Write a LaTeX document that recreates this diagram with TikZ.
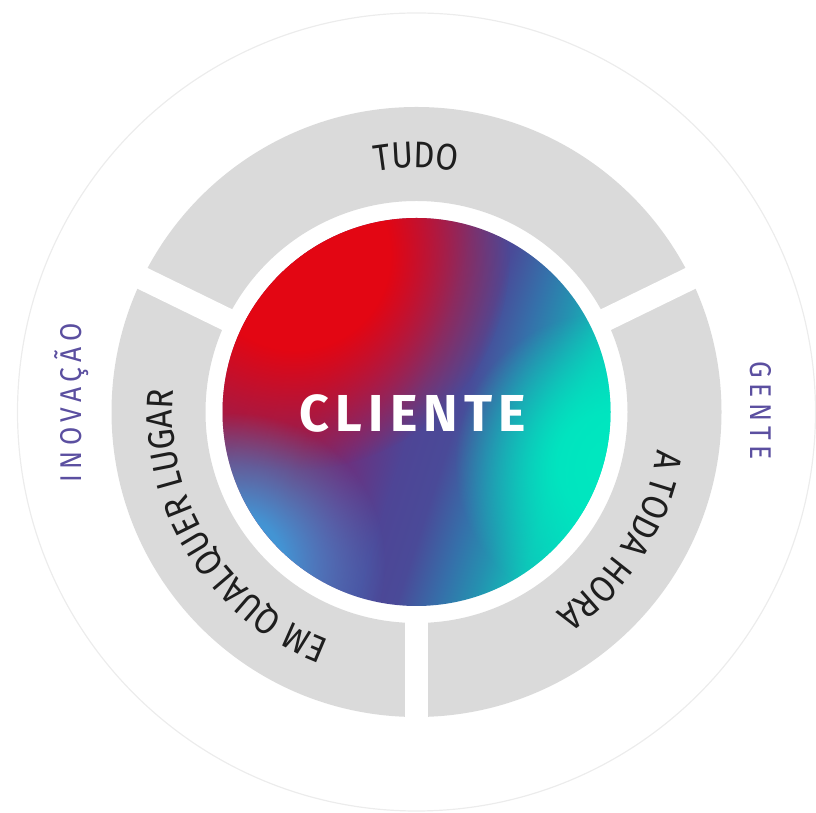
\documentclass[tikz,border=0pt]{standalone}
\usepackage{fontspec}
\usetikzlibrary{decorations.text,fadings}
\newfontfamily\ringfont{Fira Sans}[FakeStretch=0.88]
\newfontfamily\clifont{Fira Sans}[LetterSpace=12]
\newfontfamily\sidefont{Fira Sans}[FakeStretch=0.88,LetterSpace=18]

\definecolor{ringgray}{HTML}{DADADA}
\definecolor{sidepurple}{HTML}{5B4FA0}
\definecolor{ringtext}{HTML}{1E1E1E}
\definecolor{faintline}{HTML}{ECECEC}

\definecolor{gA}{HTML}{8C2258}
\definecolor{gB}{HTML}{7E2664}
\definecolor{gC}{HTML}{6A3280}
\definecolor{gD}{HTML}{4E4596}
\definecolor{gE}{HTML}{4A4A98}
\definecolor{gF}{HTML}{3570AA}
\definecolor{gG}{HTML}{2590B0}
\definecolor{gH}{HTML}{10C0B8}
\definecolor{gI}{HTML}{00DCC0}
\definecolor{spotred}{HTML}{E30613}
\definecolor{spotgreen}{HTML}{00E8C0}
\definecolor{spotblue}{HTML}{3DA0E0}

\pgfdeclarehorizontalshading{clientegrad}{100bp}{color(0bp)=(gA); color(25bp)=(gA); color(38bp)=(gB); color(44bp)=(gC); color(50bp)=(gD); color(55bp)=(gE); color(60bp)=(gF); color(64bp)=(gG); color(69bp)=(gH); color(75bp)=(gI); color(100bp)=(gI)}

\pgfdeclareradialshading{softspotsh}{\pgfpointorigin}{color(0bp)=(pgftransparent!0); color(8bp)=(pgftransparent!10); color(25bp)=(pgftransparent!100); color(50bp)=(pgftransparent!100)}
\pgfdeclarefading{softspot}{\pgfuseshading{softspotsh}}
\pgfdeclareradialshading{corespotsh}{\pgfpointorigin}{color(0bp)=(pgftransparent!0); color(11bp)=(pgftransparent!0); color(25bp)=(pgftransparent!100); color(50bp)=(pgftransparent!100)}
\pgfdeclarefading{corespot}{\pgfuseshading{corespotsh}}

\tikzset{
  ringlabel/.style={decorate, decoration={text along path, text align=center, text color=ringtext}},
  sidelabel/.style={text=sidepurple, font=\sidefont\fontsize{30}{30}\selectfont, inner sep=0pt},
  gapline/.style={white, line width=23pt}
}

\begin{document}
\begin{tikzpicture}[x=1pt,y=1pt]
\useasboundingbox (0,0) rectangle (816,813);
\coordinate (c) at (416.5,401);

% faint outer circle
\draw[faintline, line width=1.2pt] (c) circle (399);

% gray ring
\fill[ringgray, even odd rule] (c) circle (305) (c) circle (211);
\foreach \a in {26,154,270} \draw[gapline] (c) ++(\a:200) -- ++(\a:120);

% gradient disc
\begin{scope}
  \clip (c) circle (194);
  \begin{scope}[transform canvas={shift={(416.5,401)}, rotate=-18}]
    \shade[shading=clientegrad] (-200,-200) rectangle (200,200);
  \end{scope}
  \fill[spotred, path fading=corespot] (295,558) circle (215);
  \fill[spotgreen, path fading=softspot] (605,350) circle (150);
  \fill[spotblue, path fading=softspot] (235,250) circle (150);
\end{scope}

\node (cli) at (413,400) [text=white, inner sep=0pt, font=\clifont\bfseries\fontsize{52}{52}\selectfont] {CLIENTE};

% ring labels
\path[ringlabel, decoration={text={|\ringfont\fontsize{37}{37}\selectfont|TUDO}}]
  (c) ++(154:244) arc[start angle=154, end angle=26, radius=244];
\path[ringlabel, decoration={text={|\ringfont\fontsize{37}{37}\selectfont|A TODA HORA}}]
  (c) ++(26:244) arc[start angle=26, end angle=-90, radius=244];
\path[ringlabel, decoration={text={|\ringfont\fontsize{37}{37}\selectfont|EM QUALQUER LUGAR}}]
  (c) ++(270:244) arc[start angle=270, end angle=154, radius=244];

% side labels
\node (inov) at (72,410) [sidelabel, rotate=90] {INOVAÇÃO};
\node (gente) at (761,402) [sidelabel, rotate=-90] {GENTE};
\end{tikzpicture}
\end{document}
